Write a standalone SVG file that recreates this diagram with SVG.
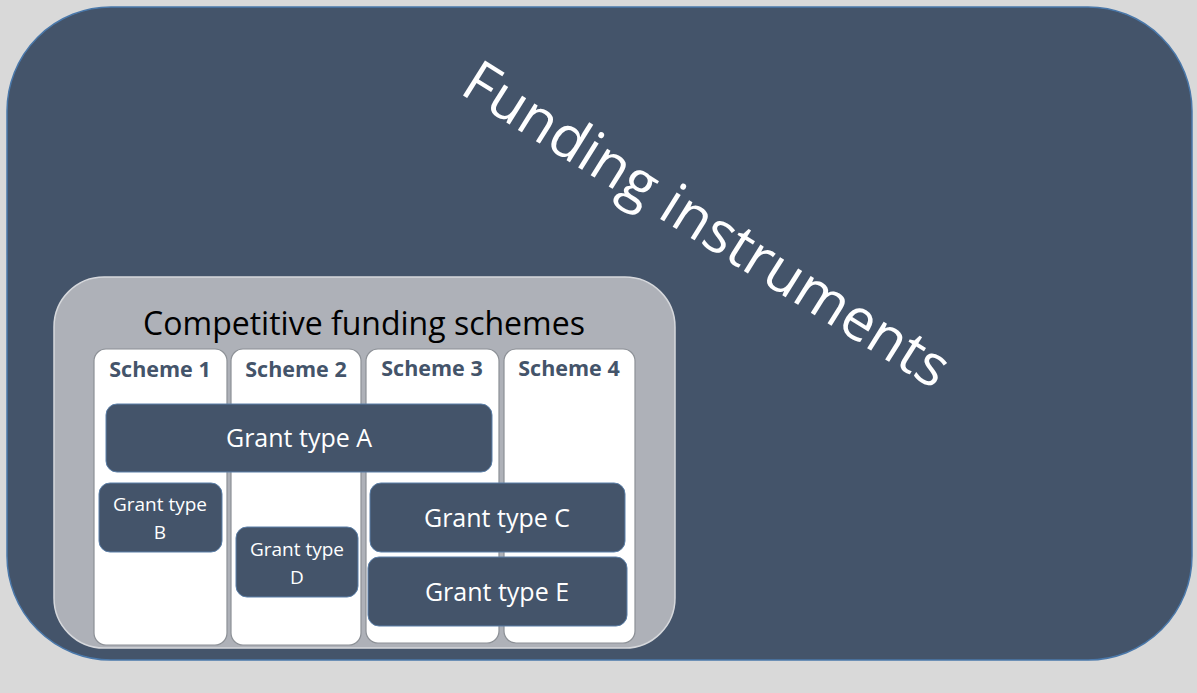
<svg xmlns="http://www.w3.org/2000/svg" width="1197" height="693" viewBox="0 0 1197 693">
<style>
.dark{fill:#44546A;stroke:#5B7FA8;stroke-width:1}
.col{fill:#FFFFFF;stroke:#8C9096;stroke-width:1.2}
.wt{fill:#FFFFFF;font-family:"Open Sans","Liberation Sans",sans-serif;text-anchor:middle}
.big{font-size:25px}
.sm{font-size:19px}
.hd{fill:#44546A;font-family:"Open Sans","Liberation Sans",sans-serif;font-weight:bold;text-anchor:middle;font-size:21.5px}
</style>
<rect x="0" y="0" width="1197" height="693" fill="#D9D9D9"/>
<g id="funding-instruments">
<rect x="7" y="7" width="1185" height="653" rx="104" ry="104" fill="#44546A" stroke="#4A78AA" stroke-width="1.5"/>
<text class="wt" x="707" y="224" font-size="58" dy="0.35em" transform="rotate(32 707 224)">Funding instruments</text>
</g>
<g id="competitive">
<rect x="54" y="277" width="621" height="371" rx="50" ry="50" fill="#AEB1B8" stroke="#D6D8DC" stroke-width="1.5"/>
<text x="364" y="335" font-family="Open Sans, Liberation Sans, sans-serif" font-size="32" text-anchor="middle" fill="#000000">Competitive funding schemes</text>
</g>
<g id="scheme1"><rect class="col" x="94" y="349" width="133" height="296" rx="12"/><text class="hd" x="160" y="377">Scheme 1</text></g>
<g id="scheme2"><rect class="col" x="231" y="349" width="130" height="296" rx="12"/><text class="hd" x="296" y="377">Scheme 2</text></g>
<g id="scheme3"><rect class="col" x="366" y="349" width="133" height="294" rx="12"/><text class="hd" x="432" y="376">Scheme 3</text></g>
<g id="scheme4"><rect class="col" x="504" y="349" width="131" height="294" rx="12"/><text class="hd" x="569" y="376">Scheme 4</text></g>
<g id="grantA"><rect class="dark" x="106" y="404" width="386" height="68" rx="11"/><text class="wt big" x="299" y="447">Grant type A</text></g>
<g id="grantB"><rect class="dark" x="99" y="483" width="123" height="69" rx="11"/><text class="wt sm" x="160" y="511">Grant type</text><text class="wt sm" x="160" y="539">B</text></g>
<g id="grantD"><rect class="dark" x="236" y="527" width="122" height="70" rx="11"/><text class="wt sm" x="297" y="556">Grant type</text><text class="wt sm" x="297" y="584">D</text></g>
<g id="grantC"><rect class="dark" x="370" y="483" width="255" height="69" rx="11"/><text class="wt big" x="497" y="527">Grant type C</text></g>
<g id="grantE"><rect class="dark" x="368" y="557" width="259" height="69" rx="11"/><text class="wt big" x="497" y="601">Grant type E</text></g>
<g id="connectors"></g>
</svg>
